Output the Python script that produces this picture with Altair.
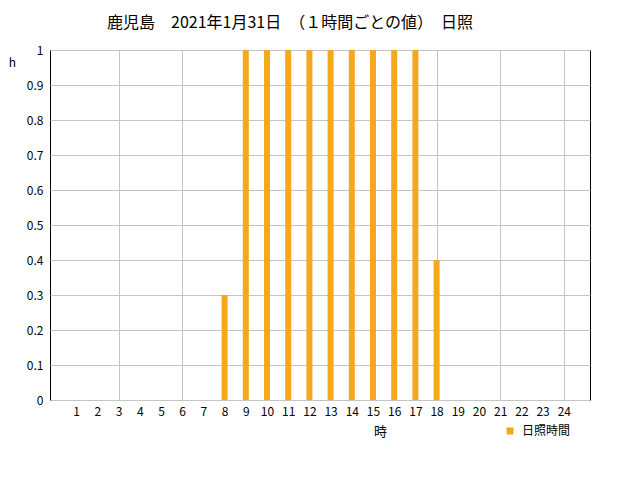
import altair as alt
import pandas as pd

hours = [1, 2, 3, 4, 5, 6, 7, 8, 9, 10, 11, 12, 13, 14, 15, 16, 17, 18, 19, 20, 21, 22, 23, 24]
sunshine = [0, 0, 0, 0, 0, 0, 0, 0.3, 1, 1, 1, 1, 1, 1, 1, 1, 1, 0.4, 0, 0, 0, 0, 0, 0]
series_name = "日照時間"
title_text = "鹿児島　2021年1月31日　（１時間ごとの値）　日照"
y_ticks = [0, 0.1, 0.2, 0.3, 0.4, 0.5, 0.6, 0.7, 0.8, 0.9, 1]
x_ticks = hours

df = pd.DataFrame({"時": hours, "日照": sunshine, "系列": [series_name] * len(hours)})

FONT = "Noto Sans CJK JP"
GRID = "#c4c4c4"
BAR = "#F5A71E"

chart = alt.Chart(df).mark_bar(size=6).encode(
    x=alt.X(
        "時:Q",
        scale=alt.Scale(domain=[0, 25], nice=False, zero=False),
        axis=alt.Axis(
            values=x_ticks, title="時", grid=True,
            gridOpacity={"condition": {"test": "datum.value % 3 === 0", "value": 1}, "value": 0},
            gridColor=GRID, ticks=False, domain=False, labelPadding=6,
            labelFontSize=12, labelColor="black", labelFont=FONT,
            titleX=330, titleY=25, titleFontWeight="normal", titleFontSize=13,
            titleColor="black", titleFont=FONT,
        ),
    ),
    y=alt.Y(
        "日照:Q",
        scale=alt.Scale(domain=[0, 1], nice=False),
        axis=alt.Axis(
            values=y_ticks, format="~g", title="h", titleAngle=0, titleX=-38, titleY=12,
            titleAlign="center", titleBaseline="middle", titleFontWeight="normal",
            titleFontSize=12, titleColor="black", titleFont=FONT,
            ticks=False, domain=False, labelPadding=7, labelFontSize=12,
            labelColor="black", labelFont=FONT, gridColor=GRID,
        ),
    ),
    color=alt.Color(
        "系列:N",
        scale=alt.Scale(domain=[series_name], range=[BAR]),
        legend=alt.Legend(
            title=None, orient="none", legendX=454, legendY=375, symbolType="square",
            symbolSize=49, symbolStrokeWidth=0, labelFontSize=12, labelFont=FONT,
            labelColor="black", padding=0, labelOffset=6,
        ),
    ),
).properties(
    width=540,
    height=350,
    title=alt.Title(title_text, fontSize=16, fontWeight="normal", anchor="middle",
                    offset=13, dx=-30, font=FONT, color="black"),
    autosize=alt.AutoSizeParams(type="none"),
    padding={"left": 42, "top": 42, "right": 10, "bottom": 48},
).configure_view(stroke="black", strokeWidth=1)

chart.save("out.html", embed_options={"renderer": "svg", "actions": False})
